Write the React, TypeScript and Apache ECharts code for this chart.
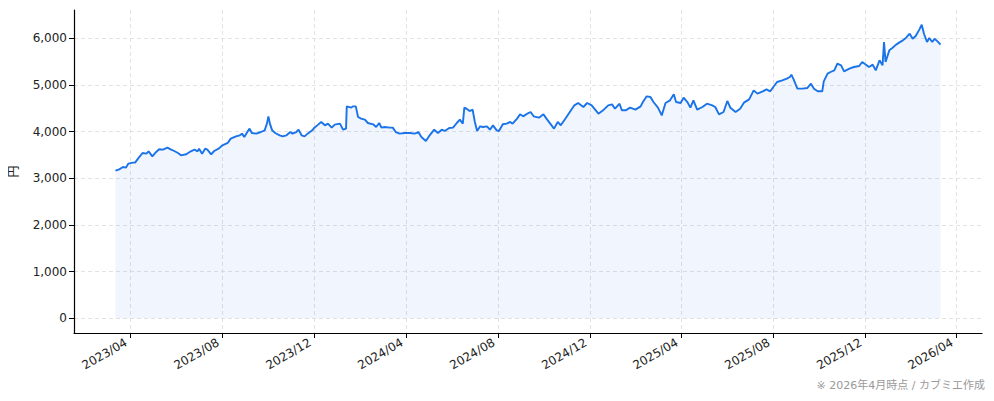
import { useEffect, useRef } from 'react';
import * as echarts from 'echarts';

const dates = [
  '2023-03-12', '2023-03-17', '2023-03-22', '2023-03-26', '2023-03-29', '2023-04-04', '2023-04-07', '2023-04-12',
  '2023-04-17', '2023-04-22', '2023-04-25', '2023-04-30', '2023-05-05', '2023-05-09', '2023-05-14', '2023-05-20',
  '2023-05-25', '2023-05-29', '2023-06-03', '2023-06-07', '2023-06-14', '2023-06-20', '2023-06-25', '2023-06-29',
  '2023-07-01', '2023-07-05', '2023-07-09', '2023-07-12', '2023-07-17', '2023-07-21', '2023-07-27', '2023-08-01',
  '2023-08-08', '2023-08-12', '2023-08-19', '2023-08-24', '2023-08-27', '2023-08-30', '2023-09-03', '2023-09-06',
  '2023-09-09', '2023-09-15', '2023-09-21', '2023-09-26', '2023-09-29', '2023-10-01', '2023-10-03', '2023-10-06',
  '2023-10-10', '2023-10-16', '2023-10-20', '2023-10-25', '2023-10-30', '2023-11-02', '2023-11-07', '2023-11-10',
  '2023-11-14', '2023-11-18', '2023-11-22', '2023-11-29', '2023-12-01', '2023-12-06', '2023-12-10', '2023-12-15',
  '2023-12-19', '2023-12-24', '2023-12-28', '2024-01-04', '2024-01-08', '2024-01-12', '2024-01-13', '2024-01-19',
  '2024-01-21', '2024-01-25', '2024-01-28', '2024-02-01', '2024-02-06', '2024-02-10', '2024-02-17', '2024-02-21',
  '2024-02-25', '2024-02-28', '2024-03-03', '2024-03-10', '2024-03-14', '2024-03-18', '2024-03-23', '2024-03-30',
  '2024-04-06', '2024-04-12', '2024-04-17', '2024-04-21', '2024-04-27', '2024-05-02', '2024-05-08', '2024-05-13',
  '2024-05-18', '2024-05-22', '2024-05-28', '2024-06-02', '2024-06-07', '2024-06-11', '2024-06-15', '2024-06-17',
  '2024-06-20', '2024-06-24', '2024-06-28', '2024-07-01', '2024-07-04', '2024-07-08', '2024-07-12', '2024-07-17',
  '2024-07-21', '2024-07-25', '2024-07-30', '2024-08-02', '2024-08-07', '2024-08-12', '2024-08-17', '2024-08-20',
  '2024-08-26', '2024-08-30', '2024-09-03', '2024-09-10', '2024-09-13', '2024-09-17', '2024-09-24', '2024-09-30',
  '2024-10-04', '2024-10-09', '2024-10-14', '2024-10-19', '2024-10-23', '2024-10-29', '2024-11-04', '2024-11-10',
  '2024-11-15', '2024-11-22', '2024-11-27', '2024-12-03', '2024-12-12', '2024-12-19', '2024-12-25', '2024-12-30',
  '2025-01-03', '2025-01-09', '2025-01-12', '2025-01-17', '2025-01-23', '2025-01-30', '2025-02-06', '2025-02-09',
  '2025-02-14', '2025-02-19', '2025-02-23', '2025-03-01', '2025-03-06', '2025-03-11', '2025-03-17', '2025-03-22',
  '2025-03-25', '2025-03-31', '2025-04-04', '2025-04-09', '2025-04-13', '2025-04-17', '2025-04-22', '2025-04-29',
  '2025-05-05', '2025-05-12', '2025-05-16', '2025-05-21', '2025-05-27', '2025-06-01', '2025-06-05', '2025-06-12',
  '2025-06-18', '2025-06-23', '2025-06-30', '2025-07-06', '2025-07-11', '2025-07-18', '2025-07-23', '2025-07-28',
  '2025-08-02', '2025-08-06', '2025-08-13', '2025-08-19', '2025-08-23', '2025-08-25', '2025-08-28', '2025-09-02',
  '2025-09-09', '2025-09-15', '2025-09-20', '2025-09-24', '2025-09-29', '2025-10-05', '2025-10-07', '2025-10-12',
  '2025-10-16', '2025-10-21', '2025-10-25', '2025-10-30', '2025-11-03', '2025-11-10', '2025-11-16', '2025-11-23',
  '2025-11-27', '2025-12-02', '2025-12-06', '2025-12-11', '2025-12-15', '2025-12-20', '2025-12-24', '2025-12-26',
  '2025-12-28', '2026-01-02', '2026-01-06', '2026-01-11', '2026-01-15', '2026-01-20', '2026-01-24', '2026-01-29',
  '2026-02-02', '2026-02-06', '2026-02-11', '2026-02-14', '2026-02-17', '2026-02-21', '2026-02-24', '2026-02-28',
  '2026-03-03', '2026-03-07', '2026-03-11',
];

const prices = [
  3165, 3193, 3243, 3229, 3314, 3336, 3336, 3443,
  3543, 3529, 3579, 3472, 3565, 3622, 3615, 3658,
  3615, 3586, 3543, 3493, 3515, 3579, 3615, 3579,
  3636, 3529, 3636, 3615, 3515, 3586, 3636, 3708,
  3758, 3851, 3900, 3922, 3958, 3886, 3993, 4065,
  3972, 3958, 3993, 4029, 4172, 4329, 4172, 4029,
  3972, 3922, 3900, 3922, 3993, 3958, 3993, 4043,
  3922, 3900, 3958, 4043, 4086, 4151, 4208, 4136,
  4172, 4086, 4151, 4172, 4043, 4065, 4543, 4515,
  4543, 4543, 4315, 4279, 4258, 4186, 4158, 4100,
  4186, 4086, 4100, 4086, 4086, 3993, 3958, 3972,
  3972, 3958, 3993, 3886, 3800, 3922, 4043, 3972,
  4043, 4015, 4079, 4086, 4186, 4258, 4172, 4515,
  4493, 4443, 4472, 4208, 4015, 4115, 4100, 4115,
  4043, 4136, 4029, 4015, 4158, 4172, 4208, 4172,
  4279, 4372, 4329, 4400, 4422, 4329, 4300, 4372,
  4279, 4172, 4065, 4208, 4136, 4279, 4422, 4565,
  4615, 4529, 4615, 4565, 4386, 4472, 4565, 4586,
  4493, 4600, 4458, 4458, 4515, 4472, 4543, 4636,
  4758, 4743, 4636, 4515, 4350, 4615, 4672, 4800,
  4636, 4615, 4729, 4636, 4515, 4672, 4472, 4529,
  4600, 4565, 4529, 4372, 4422, 4658, 4515, 4422,
  4493, 4622, 4693, 4886, 4815, 4865, 4908, 4865,
  4979, 5065, 5100, 5136, 5172, 5222, 5122, 4922,
  4922, 4936, 5029, 4922, 4865, 4865, 5079, 5243,
  5279, 5315, 5458, 5422, 5293, 5350, 5386, 5408,
  5493, 5436, 5386, 5436, 5315, 5529, 5422, 5922,
  5493, 5743, 5793, 5865, 5908, 5958, 6008, 6100,
  5993, 6050, 6193, 6293, 6100, 5922, 6008, 5922,
  5993, 5936, 5865,
];

const xTicks = [
  '2023-04-01', '2023-08-01', '2023-12-01', '2024-04-01', '2024-08-01',
  '2024-12-01', '2025-04-01', '2025-08-01', '2025-12-01', '2026-04-01',
];
const yTicks = [0, 1000, 2000, 3000, 4000, 5000, 6000];

const FONT = '"DejaVu Sans", "Noto Sans CJK JP", sans-serif';

const toTime = (d: string) => new Date(d + 'T00:00:00').getTime();

export default function App() {
  const chartRef = useRef<HTMLDivElement>(null);

  useEffect(() => {
    if (!chartRef.current) return;
    const chart = echarts.init(chartRef.current, null, { renderer: 'svg' });
    const xTickValues = xTicks.map(toTime);
    chart.setOption({
      animation: false,
      textStyle: { fontFamily: FONT },
      grid: { left: 72, right: 12, top: 10, bottom: 68 },
      xAxis: {
        type: 'value',
        min: toTime('2023-01-16'),
        max: toTime('2026-05-05'),
        axisLine: { onZero: false, lineStyle: { color: '#000', width: 1.2 } },
        axisTick: { show: true, length: 5, lineStyle: { color: '#000' }, customValues: xTickValues },
        axisLabel: {
          customValues: xTickValues,
          rotate: 30,
          color: '#222',
          fontSize: 12,
          fontFamily: FONT,
          margin: 6,
          padding: [0, 5, 0, 0],
          formatter: (v: number) => {
            const d = new Date(v);
            return `${d.getFullYear()}/${String(d.getMonth() + 1).padStart(2, '0')}`;
          },
        },
        splitLine: { show: true, lineStyle: { color: '#dcdcdc', type: [4, 3], width: 0.8 } },
      },
      yAxis: {
        type: 'value',
        min: -315,
        max: 6608,
        name: '円',
        nameLocation: 'middle',
        nameRotate: 90,
        nameGap: 54,
        nameTextStyle: { color: '#222', fontSize: 12, fontFamily: FONT },
        axisLine: { show: true, onZero: false, lineStyle: { color: '#000', width: 1.2 } },
        axisTick: { show: true, length: 5, lineStyle: { color: '#000' }, customValues: yTicks },
        axisLabel: {
          customValues: yTicks,
          color: '#222',
          fontSize: 12,
          fontFamily: FONT,
          margin: 7,
          formatter: (v: number) => v.toLocaleString('en-US'),
        },
        splitLine: { show: true, lineStyle: { color: '#dcdcdc', type: [4, 3], width: 0.8 } },
      },
      series: [
        {
          type: 'line',
          data: dates.map((d, i) => [toTime(d), prices[i]]),
          showSymbol: false,
          lineStyle: { color: '#1a73e8', width: 1.9 },
          itemStyle: { color: '#1a73e8' },
          areaStyle: { color: 'rgba(26,115,232,0.09)', origin: 0 },
        },
      ],
      graphic: [
        {
          type: 'text',
          right: 9,
          bottom: 10,
          style: {
            text: '※ 2026年4月時点 / カブミエ作成',
            fill: '#999',
            fontSize: 11,
            fontFamily: FONT,
          },
        },
      ],
    });
    return () => chart.dispose();
  }, []);

  return <div ref={chartRef} style={{ width: 994, height: 401, margin: -8 }} />;
}
